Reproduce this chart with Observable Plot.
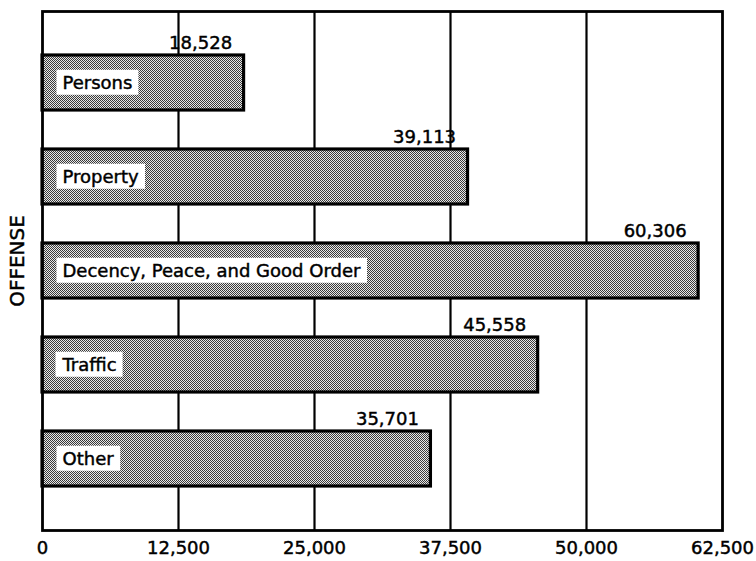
<!DOCTYPE html>
<html>
<head>
<meta charset="utf-8">
<script src="https://cdn.jsdelivr.net/npm/d3@7"></script>
<script src="https://cdn.jsdelivr.net/npm/@observablehq/plot@0.6"></script>
<style>
  html, body { margin: 0; padding: 0; background: white; }
  #chart svg text { stroke: black; stroke-width: 0.45px; }
</style>
</head>
<body>
<div id="chart"></div>
<script>
const offenses = ["Persons", "Property", "Decency, Peace, and Good Order", "Traffic", "Other"];
const counts = [18528, 39113, 60306, 45558, 35701];
const xTicks = [0, 12500, 25000, 37500, 50000, 62500];
const yLabel = "OFFENSE";

const data = offenses.map((o, i) => ({offense: o, value: counts[i]}));
const fmt = d3.format(",");

const chart = Plot.plot({
  width: 756,
  height: 561,
  marginLeft: 42,
  marginRight: 34,
  marginTop: 11,
  marginBottom: 31,
  style: {fontFamily: "'DejaVu Sans', sans-serif", fontSize: "18px", color: "black", background: "white"},
  x: {domain: [0, 62500], ticks: xTicks, tickFormat: fmt, tickSize: 0, tickPadding: 11, label: null},
  y: {domain: offenses, paddingInner: 0.41, paddingOuter: 0.44, axis: null},
  marks: [
    Plot.ruleX(xTicks.slice(1, -1), {stroke: "black", strokeWidth: 2.2}),
    Plot.barX(data, {y: "offense", x: "value", fill: "url(#stipple)", stroke: "black", strokeWidth: 3.2}),
    Plot.text(data, {y: "offense", x: 0, text: "offense", textAnchor: "start", dx: 20, fill: "black", className: "offense-label"}),
    Plot.text(data, {y: "offense", x: "value", text: d => fmt(d.value), textAnchor: "end", lineAnchor: "bottom", dx: -12, dy: -34, fill: "black"}),
    Plot.frame({stroke: "black", strokeWidth: 2.8}),
    Plot.text([yLabel], {frameAnchor: "left", textAnchor: "middle", rotate: -90, dx: -25, dy: -10, fontSize: 20, fill: "black"})
  ]
});

document.getElementById("chart").appendChild(chart);

// stipple pattern for the bars
const svg = d3.select(chart);
const defs = svg.insert("defs", ":first-child");
const pat = defs.append("pattern")
  .attr("id", "stipple")
  .attr("patternUnits", "userSpaceOnUse")
  .attr("width", 2).attr("height", 2);
pat.append("rect").attr("width", 2).attr("height", 2).attr("fill", "#e8e8e8");
pat.append("rect").attr("x", 0).attr("y", 0).attr("width", 1).attr("height", 1).attr("fill", "#3a3a3a");
pat.append("rect").attr("x", 1).attr("y", 1).attr("width", 1).attr("height", 1).attr("fill", "#3a3a3a");

// white boxes behind the category labels
svg.selectAll("g.offense-label text").each(function () {
  const b = this.getBBox();
  const r = d3.select(this.parentNode).insert("rect", () => this)
    .attr("x", b.x - 6).attr("y", b.y - 2)
    .attr("width", b.width + 12).attr("height", b.height + 4)
    .attr("fill", "white");
  const t = this.getAttribute("transform");
  if (t) r.attr("transform", t);
});
</script>
</body>
</html>
